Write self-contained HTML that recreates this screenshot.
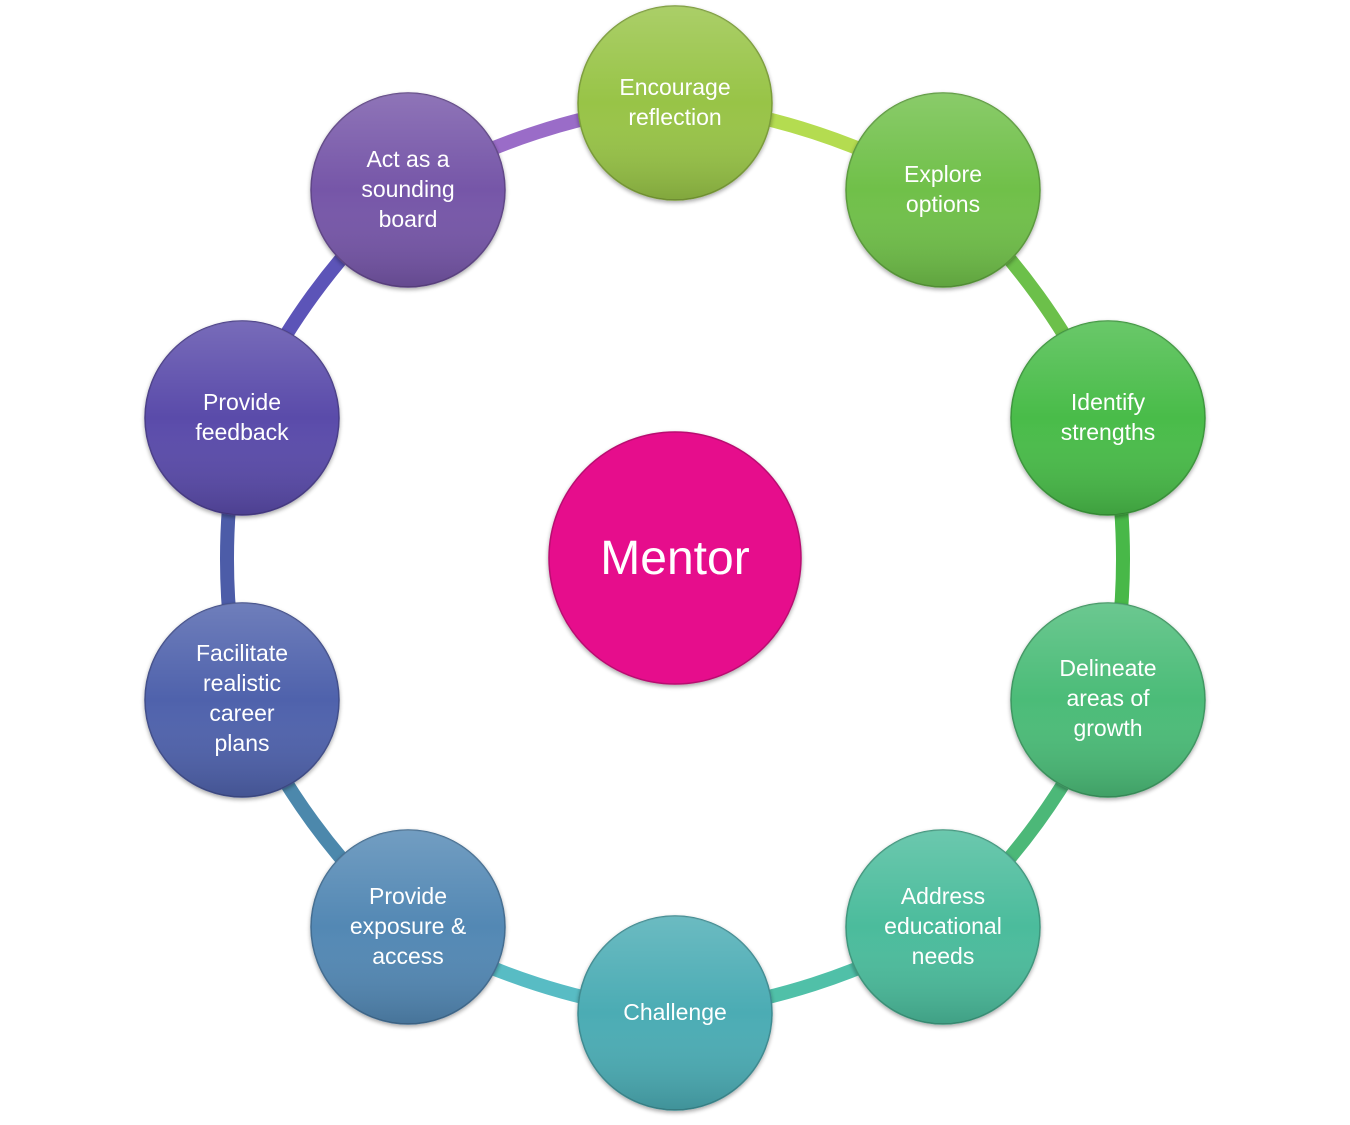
<!DOCTYPE html>
<html><head><style>html,body{margin:0;padding:0;background:#fff}svg{display:block}</style></head>
<body>
<svg width="1350" height="1125" viewBox="0 0 1350 1125" xmlns="http://www.w3.org/2000/svg" font-family="'Liberation Sans', sans-serif">
<defs>
<linearGradient id="sh" x1="0" y1="0" x2="0" y2="1"><stop offset="0" stop-color="#fff" stop-opacity="0.18"/><stop offset="0.5" stop-color="#fff" stop-opacity="0"/><stop offset="1" stop-color="#000" stop-opacity="0.15"/></linearGradient>
<filter id="ds" x="-20%" y="-20%" width="140%" height="140%"><feGaussianBlur in="SourceAlpha" stdDeviation="2"/><feOffset dy="2"/><feComponentTransfer><feFuncA type="linear" slope="0.35"/></feComponentTransfer><feMerge><feMergeNode/><feMergeNode in="SourceGraphic"/></feMerge></filter>
</defs>
<g fill="none" stroke-width="14">
<path d="M408 190 A670 670 0 0 1 675 103" stroke="#9a6cc8"/>
<path d="M675 103 A670 670 0 0 1 943 190" stroke="#b4dc50"/>
<path d="M943 190 A670 670 0 0 1 1108 418" stroke="#6cc04a"/>
<path d="M1108 418 A670 670 0 0 1 1108 700" stroke="#48b848"/>
<path d="M1108 700 A670 670 0 0 1 943 927" stroke="#4cb878"/>
<path d="M943 927 A670 670 0 0 1 675 1013" stroke="#50c0a8"/>
<path d="M675 1013 A670 670 0 0 1 408 927" stroke="#58bcc4"/>
<path d="M408 927 A670 670 0 0 1 242 700" stroke="#4c88ac"/>
<path d="M242 700 A670 670 0 0 1 242 418" stroke="#4c5ca8"/>
<path d="M242 418 A670 670 0 0 1 408 190" stroke="#5c54b8"/>
</g>
<g filter="url(#ds)" stroke-width="1.5">
<circle cx="675" cy="103" r="97" fill="#98c446" stroke="#7a9c38"/>
<circle cx="943" cy="190" r="97" fill="#70c04a" stroke="#5a9a3a"/>
<circle cx="1108" cy="418" r="97" fill="#48bc48" stroke="#3a963a"/>
<circle cx="1108" cy="700" r="97" fill="#4cbc78" stroke="#3c9660"/>
<circle cx="943" cy="927" r="97" fill="#4cbc9c" stroke="#3c967c"/>
<circle cx="675" cy="1013" r="97" fill="#4cacb4" stroke="#3c8a90"/>
<circle cx="408" cy="927" r="97" fill="#5288b4" stroke="#426c90"/>
<circle cx="242" cy="700" r="97" fill="#5062ac" stroke="#404e8a"/>
<circle cx="242" cy="418" r="97" fill="#5a4caa" stroke="#483c88"/>
<circle cx="408" cy="190" r="97" fill="#7656a8" stroke="#5e4486"/>
<circle cx="675" cy="558" r="126" fill="#e60c8c" stroke="#b80a70"/>
</g>
<g fill="url(#sh)">
<circle cx="675" cy="103" r="97"/><circle cx="943" cy="190" r="97"/><circle cx="1108" cy="418" r="97"/><circle cx="1108" cy="700" r="97"/><circle cx="943" cy="927" r="97"/><circle cx="675" cy="1013" r="97"/><circle cx="408" cy="927" r="97"/><circle cx="242" cy="700" r="97"/><circle cx="242" cy="418" r="97"/><circle cx="408" cy="190" r="97"/>
</g>
<g fill="#fff" font-size="23" text-anchor="middle">
<text x="675" y="95">Encourage</text><text x="675" y="125">reflection</text>
<text x="943" y="182">Explore</text><text x="943" y="212">options</text>
<text x="1108" y="410">Identify</text><text x="1108" y="440">strengths</text>
<text x="1108" y="676">Delineate</text><text x="1108" y="706">areas of</text><text x="1108" y="736">growth</text>
<text x="943" y="904">Address</text><text x="943" y="934">educational</text><text x="943" y="964">needs</text>
<text x="675" y="1020">Challenge</text>
<text x="408" y="904">Provide</text><text x="408" y="934">exposure &amp;</text><text x="408" y="964">access</text>
<text x="242" y="661">Facilitate</text><text x="242" y="691">realistic</text><text x="242" y="721">career</text><text x="242" y="751">plans</text>
<text x="242" y="410">Provide</text><text x="242" y="440">feedback</text>
<text x="408" y="167">Act as a</text><text x="408" y="197">sounding</text><text x="408" y="227">board</text>
<text x="675" y="574" font-size="48">Mentor</text>
</g>
</svg>
</body></html>
